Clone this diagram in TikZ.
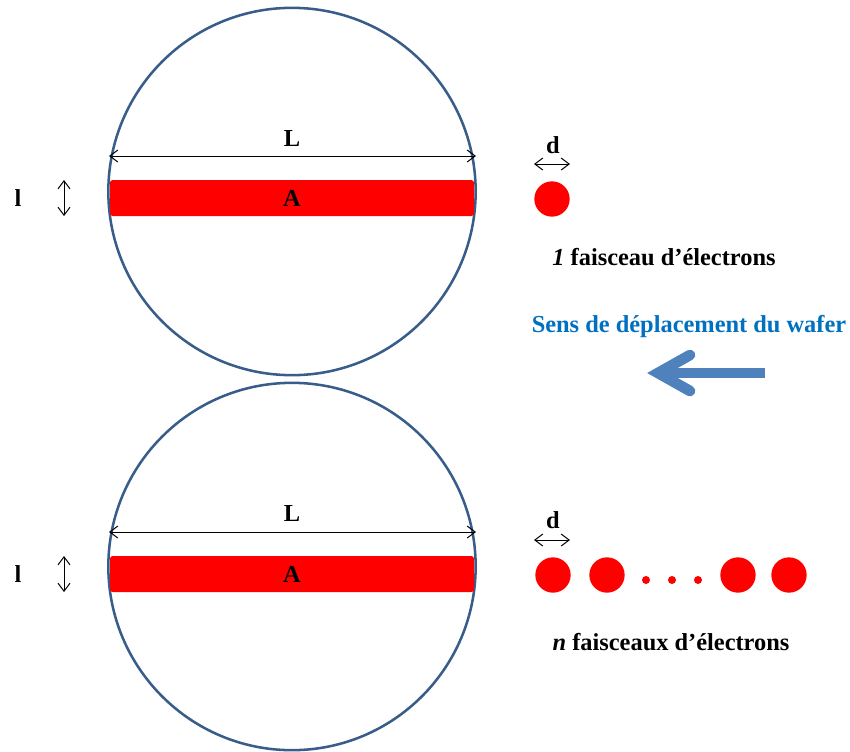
\documentclass[tikz,border=0pt]{standalone}
\usepackage{fontspec}
\setmainfont{Liberation Serif}
\usetikzlibrary{arrows.meta}
\definecolor{ring}{RGB}{56,93,138}
\definecolor{beam}{RGB}{255,0,0}
\definecolor{sens}{RGB}{0,112,192}
\definecolor{arr}{RGB}{79,129,189}
\begin{document}
\begin{tikzpicture}[x=0.75pt,y=-0.75pt,
  wafer/.style={circle, draw=ring, line width=1.9pt, minimum size=275.5pt, inner sep=0pt},
  bar/.style={rectangle, fill=beam, rounded corners=2pt, minimum width=273pt, minimum height=27pt, inner sep=0pt,
     font=\fontsize{18.3}{21}\selectfont\bfseries},
  beamdot/.style={circle, fill=beam, minimum size=26.5pt, inner sep=0pt},
  smalldot/.style={circle, fill=beam, minimum size=6pt, inner sep=0pt},
  lbl/.style={font=\fontsize{18.3}{21}\selectfont\bfseries, inner sep=0pt},
  dim/.style={line width=0.75pt, {Straight Barb[length=6pt,width=9pt]}-{Straight Barb[length=6pt,width=9pt]}},
  bigarrow/.style={draw=arr, line width=8pt}]
\useasboundingbox (0,0) rectangle (850,751);
% top
\node[wafer] (w1) at (292,191.5) {};
\node[bar] (a1) at (292,198) {A};
\coordinate (L1a) at (109,156);
\coordinate (L1b) at (476,156);
\draw[dim] (L1a) -- (L1b);
\node[lbl] (L1) at (292,139) {L};
\node[lbl] (l1) at (18,198) {l};
\coordinate (l1a) at (64,180);
\coordinate (l1b) at (64,216);
\draw[dim] (l1a) -- (l1b);
\node[beamdot] (b1) at (552,199) {};
\coordinate (d1a) at (534,164);
\coordinate (d1b) at (570,164);
\draw[dim] (d1a) -- (d1b);
\node[lbl] (d1) at (553,145) {d};
\node[lbl] (t1) at (664,257) {\textit{1} faisceau d’électrons};
% direction
\node[lbl, text=sens] (sens) at (689,326) {Sens de déplacement du wafer};
\coordinate (arS) at (765,373);
\coordinate (arT) at (658,373);
\coordinate (arU) at (690,355);
\coordinate (arD) at (690,391);
\draw[bigarrow] (arS) -- (arT);
\draw[bigarrow, line cap=round, line join=miter] (arU) -- (arT) -- (arD);
% bottom
\node[wafer] (w2) at (292,566.5) {};
\node[bar] (a2) at (292,574) {A};
\coordinate (L2a) at (109,532);
\coordinate (L2b) at (476,532);
\draw[dim] (L2a) -- (L2b);
\node[lbl] (L2) at (292,514) {L};
\node[lbl] (l2) at (18,574) {l};
\coordinate (l2a) at (64,556);
\coordinate (l2b) at (64,592);
\draw[dim] (l2a) -- (l2b);
\node[beamdot] (n1) at (553,575) {};
\node[beamdot] (n2) at (607,575) {};
\node[smalldot] (s1) at (646,580) {};
\node[smalldot] (s2) at (672,580) {};
\node[smalldot] (s3) at (698,580) {};
\node[beamdot] (n3) at (738,575) {};
\node[beamdot] (n4) at (789,575) {};
\coordinate (d2a) at (534,540);
\coordinate (d2b) at (570,540);
\draw[dim] (d2a) -- (d2b);
\node[lbl] (d2) at (553,520) {d};
\node[lbl] (t2) at (671,642) {\textit{n} faisceaux d’électrons};
\end{tikzpicture}
\end{document}
